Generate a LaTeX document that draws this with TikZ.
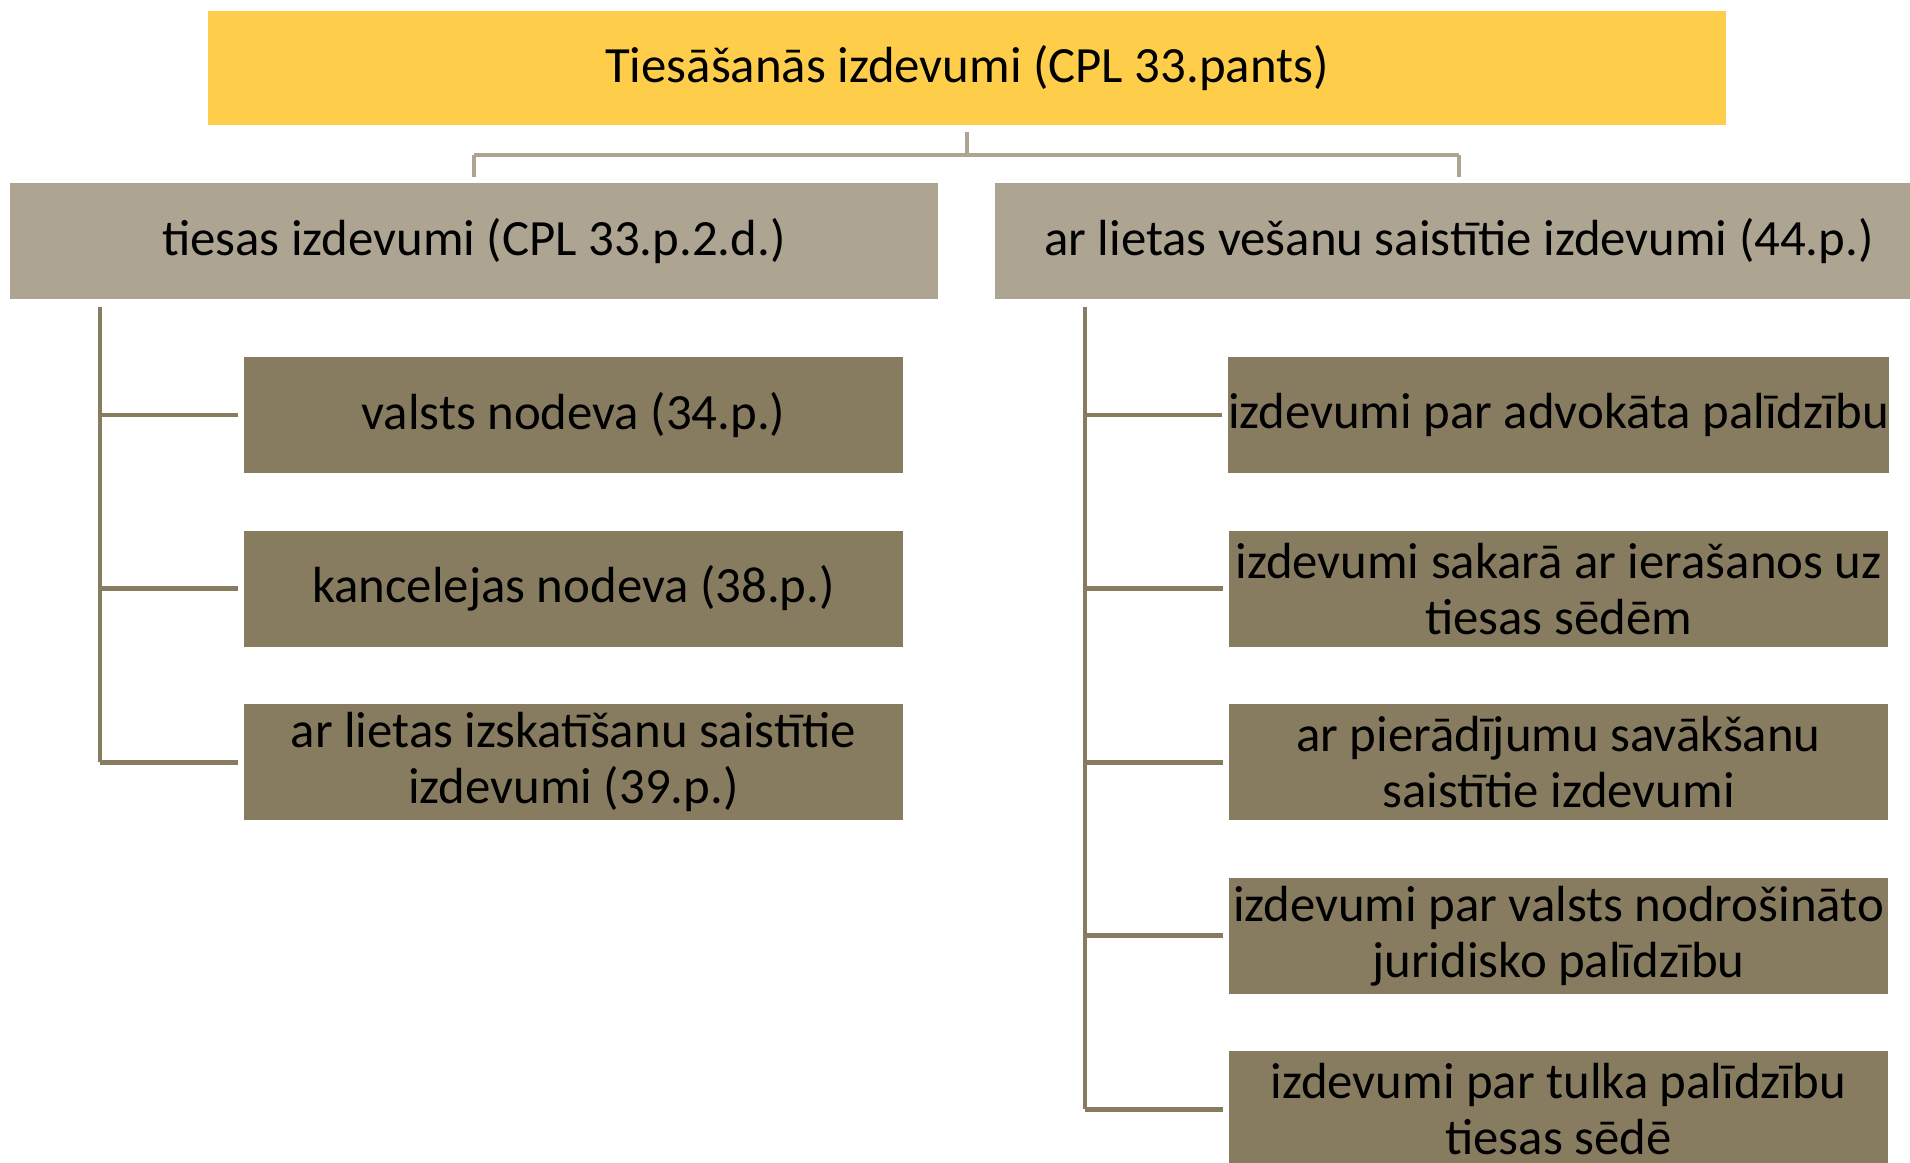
\documentclass[tikz,border=0pt]{standalone}
\usepackage{fontspec}
\setmainfont{Carlito}
\definecolor{gold}{HTML}{FECE4A}
\definecolor{tanbox}{HTML}{ADA592}
\definecolor{darkbox}{HTML}{877C5F}
\begin{document}
\begin{tikzpicture}[x=0.5pt,y=-0.5pt,
  boxbase/.style={rectangle,inner sep=0pt,align=center,text=black,
    font=\fontsize{25.4pt}{28pt}\selectfont},
  topbox/.style={boxbase,fill=gold,minimum width=759pt,minimum height=57pt},
  midbox/.style={boxbase,fill=tanbox,minimum width=464pt,minimum height=58pt},
  leafbox/.style={boxbase,fill=darkbox,minimum width=329.5pt,minimum height=58pt},
  connlight/.style={draw=tanbox,line width=2.2pt},
  conndark/.style={draw=darkbox,line width=2.4pt}]
\useasboundingbox (0,0) rectangle (1910,1162);

\node[topbox] (top) at (967,68) {Tiesāšanās izdevumi (CPL 33.pants)};
\node[midbox] (L) at (474,241) {tiesas izdevumi (CPL 33.p.2.d.)};
\node[midbox] (R) at (1459,241) {ar lietas vešanu saistītie izdevumi (44.p.)};

\node[leafbox] (a1) at (573.5,415) {valsts nodeva (34.p.)};
\node[leafbox] (a2) at (573.5,588.6) {kancelejas nodeva (38.p.)};
\node[leafbox] (a3) at (573.5,762.2) {ar lietas izskatīšanu saistītie\\izdevumi (39.p.)};

\node[leafbox] (b1) at (1558.5,415) {izdevumi par advokāta palīdzību};
\node[leafbox] (b2) at (1558.5,588.6) {izdevumi sakarā ar ierašanos uz\\tiesas sēdēm};
\node[leafbox] (b3) at (1558.5,762.2) {ar pierādījumu savākšanu\\saistītie izdevumi};
\node[leafbox] (b4) at (1558.5,935.8) {izdevumi par valsts nodrošināto\\juridisko palīdzību};
\node[leafbox] (b5) at (1558.5,1109.4) {izdevumi par tulka palīdzību\\tiesas sēdē};

% top connectors
\coordinate (hubtop) at (967,132);
\coordinate (hub) at (967,155);
\draw[connlight] (hubtop) -- (hub);
\draw[connlight] (hub -| L.north) -- (hub -| R.north);
\draw[connlight,shorten >=3pt] (hub -| L.north) -- (L.north);
\draw[connlight,shorten >=3pt] (hub -| R.north) -- (R.north);

% left subtree
\coordinate (Lt) at (100,307);
\draw[conndark] (Lt) -- (Lt |- a3.west);
\foreach \n in {a1,a2,a3}
  \draw[conndark,shorten >=3pt] (Lt |- \n.west) -- (\n.west);

% right subtree
\coordinate (Rt) at (1085,307);
\draw[conndark] (Rt) -- (Rt |- b5.west);
\foreach \n in {b1,b2,b3,b4,b5}
  \draw[conndark,shorten >=3pt] (Rt |- \n.west) -- (\n.west);
\end{tikzpicture}
\end{document}
